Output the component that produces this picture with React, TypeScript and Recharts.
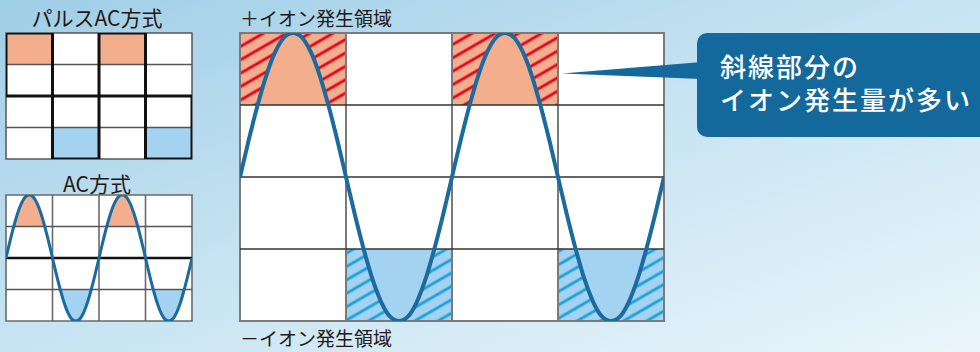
import React from "react";
import {
  ComposedChart,
  Line,
  Area,
  XAxis,
  YAxis,
  ReferenceArea,
  ReferenceLine,
} from "recharts";

// ---- data ----
// phase (degrees) of each sample along two full periods
const wavePhase = [
  0, 15, 30, 45, 60, 75, 90, 105, 120, 135, 150, 165, 180, 195, 210, 225, 240,
  255, 270, 285, 300, 315, 330, 345, 360, 375, 390, 405, 420, 435, 450, 465,
  480, 495, 510, 525, 540, 555, 570, 585, 600, 615, 630, 645, 660, 675, 690,
  705, 720,
];
// normalized level of the AC wave at each phase
const waveLevel = [
  0, 0.26, 0.5, 0.71, 0.87, 0.97, 1, 0.97, 0.87, 0.71, 0.5, 0.26, 0, -0.26,
  -0.5, -0.71, -0.87, -0.97, -1, -0.97, -0.87, -0.71, -0.5, -0.26, 0, 0.26, 0.5,
  0.71, 0.87, 0.97, 1, 0.97, 0.87, 0.71, 0.5, 0.26, 0, -0.26, -0.5, -0.71,
  -0.87, -0.97, -1, -0.97, -0.87, -0.71, -0.5, -0.26, 0,
];
// pulse AC square wave corners
const pulsePhase = [0, 0, 180, 180, 360, 360, 540, 540, 720, 720];
const pulseLevel = [0, 1, 1, -1, -1, 1, 1, -1, -1, 0];

const columnEdges = [0, 180, 360, 540, 720];
const rowEdges = [-1, -0.5, 0, 0.5, 1];
const plusColumns = [0, 2];
const minusColumns = [1, 3];

const titlePulse = "パルスAC方式";
const titleAC = "AC方式";
const plusLabel = "＋イオン発生領域";
const minusLabel = "－イオン発生領域";
const calloutLines = ["斜線部分の", "イオン発生量が多い"];

// ---- derived tables ----
const waveData = wavePhase.map((p, i) => ({
  p,
  v: waveLevel[i],
  up: waveLevel[i] >= 0.5 ? waveLevel[i] : null,
  dn: waveLevel[i] <= -0.5 ? waveLevel[i] : null,
}));
const pulseData = pulsePhase.map((p, i) => ({ p, v: pulseLevel[i] }));

const SALMON = "#F3AF8D";
const LIGHTBLUE = "#A3D3F0";
const WAVE = "#1B6B9E";
const FONT = '"Noto Sans CJK JP", "Noto Sans", sans-serif';

type GridStyle = {
  vStroke: string;
  vWidth: number;
  hStroke: string;
  hWidth: number;
  midStroke: string;
  midWidth: number;
  borderStroke: string;
  borderWidth: number;
};

function gridLines(g: GridStyle) {
  const out: React.ReactNode[] = [];
  columnEdges.slice(1, -1).forEach((x) =>
    out.push(
      <ReferenceLine key={"v" + x} x={x} stroke={g.vStroke} strokeWidth={g.vWidth} />
    )
  );
  rowEdges.slice(1, -1).forEach((y) =>
    out.push(
      <ReferenceLine
        key={"h" + y}
        y={y}
        stroke={y === 0 ? g.midStroke : g.hStroke}
        strokeWidth={y === 0 ? g.midWidth : g.hWidth}
      />
    )
  );
  out.push(
    <ReferenceArea
      key="border"
      x1={columnEdges[0]}
      x2={columnEdges[4]}
      y1={rowEdges[0]}
      y2={rowEdges[4]}
      fill="none"
      fillOpacity={0}
      stroke={g.borderStroke}
      strokeWidth={g.borderWidth}
    />
  );
  return out;
}

function cellAreas(fillPlus: string, fillMinus: string, prefix: string) {
  return [
    ...plusColumns.map((c) => (
      <ReferenceArea
        key={prefix + "p" + c}
        x1={columnEdges[c]}
        x2={columnEdges[c + 1]}
        y1={rowEdges[3]}
        y2={rowEdges[4]}
        fill={fillPlus}
        fillOpacity={1}
        stroke="none"
      />
    )),
    ...minusColumns.map((c) => (
      <ReferenceArea
        key={prefix + "m" + c}
        x1={columnEdges[c]}
        x2={columnEdges[c + 1]}
        y1={rowEdges[0]}
        y2={rowEdges[1]}
        fill={fillMinus}
        fillOpacity={1}
        stroke="none"
      />
    )),
  ];
}

const axes = [
  <XAxis key="x" dataKey="p" type="number" domain={[0, 720]} hide allowDataOverflow />,
  <YAxis key="y" type="number" domain={[-1, 1]} hide allowDataOverflow />,
];

const M = { top: 4, right: 4, bottom: 4, left: 4 };

function whiteBg() {
  return (
    <ReferenceArea
      x1={0}
      x2={720}
      y1={-1}
      y2={1}
      fill="#ffffff"
      fillOpacity={1}
      stroke="none"
    />
  );
}

function MainChart() {
  return (
    <ComposedChart width={432} height={296} data={waveData} margin={M}>
      {axes}
      {whiteBg()}
      {cellAreas(SALMON, LIGHTBLUE, "s")}
      {cellAreas("url(#hatchRed)", "url(#hatchBlue)", "h")}
      <Area
        dataKey="up"
        type="monotone"
        baseValue={0.5}
        fill={SALMON}
        fillOpacity={1}
        stroke="none"
        isAnimationActive={false}
        dot={false}
        activeDot={false}
      />
      <Area
        dataKey="dn"
        type="monotone"
        baseValue={-0.5}
        fill={LIGHTBLUE}
        fillOpacity={1}
        stroke="none"
        isAnimationActive={false}
        dot={false}
        activeDot={false}
      />
      {gridLines({
        vStroke: "#7a7a7a",
        vWidth: 2,
        hStroke: "#333333",
        hWidth: 1.4,
        midStroke: "#333333",
        midWidth: 1.4,
        borderStroke: "#7a7a7a",
        borderWidth: 2,
      })}
      <Line
        dataKey="v"
        type="monotone"
        stroke={WAVE}
        strokeWidth={4}
        dot={false}
        activeDot={false}
        isAnimationActive={false}
      />
    </ComposedChart>
  );
}

function PulseChart() {
  return (
    <ComposedChart width={194} height={134} data={pulseData} margin={M}>
      {axes}
      {whiteBg()}
      {cellAreas(SALMON, LIGHTBLUE, "s")}
      {gridLines({
        vStroke: "#555555",
        vWidth: 1.5,
        hStroke: "#555555",
        hWidth: 1.5,
        midStroke: "#111111",
        midWidth: 3,
        borderStroke: "#555555",
        borderWidth: 1.5,
      })}
      <Line
        dataKey="v"
        type="linear"
        stroke="#111111"
        strokeWidth={3}
        dot={false}
        activeDot={false}
        isAnimationActive={false}
      />
    </ComposedChart>
  );
}

function ACChart() {
  return (
    <ComposedChart width={194} height={134} data={waveData} margin={M}>
      {axes}
      {whiteBg()}
      <Area
        dataKey="up"
        type="monotone"
        baseValue={0.5}
        fill={SALMON}
        fillOpacity={1}
        stroke="none"
        isAnimationActive={false}
        dot={false}
        activeDot={false}
      />
      <Area
        dataKey="dn"
        type="monotone"
        baseValue={-0.5}
        fill={LIGHTBLUE}
        fillOpacity={1}
        stroke="none"
        isAnimationActive={false}
        dot={false}
        activeDot={false}
      />
      {gridLines({
        vStroke: "#6a6a6a",
        vWidth: 1.6,
        hStroke: "#555555",
        hWidth: 1.4,
        midStroke: "#111111",
        midWidth: 2.5,
        borderStroke: "#6a6a6a",
        borderWidth: 1.6,
      })}
      <Line
        dataKey="v"
        type="monotone"
        stroke={WAVE}
        strokeWidth={3}
        dot={false}
        activeDot={false}
        isAnimationActive={false}
      />
    </ComposedChart>
  );
}

const abs = (left: number, top: number): React.CSSProperties => ({
  position: "absolute",
  left,
  top,
});

const titleStyle: React.CSSProperties = {
  fontSize: 21,
  lineHeight: "22px",
  color: "#231815",
  whiteSpace: "nowrap",
};

const regionStyle: React.CSSProperties = {
  ...titleStyle,
  fontSize: 19,
};

const calloutStyle: React.CSSProperties = {
  fontFamily: 'Lato, "Noto Sans CJK JP", sans-serif',
  fontSize: 26,
  lineHeight: "30px",
  letterSpacing: 2,
  color: "#ffffff",
  fontWeight: 500,
  whiteSpace: "nowrap",
};

export default function App() {
  return (
    <div
      style={{
        position: "fixed",
        left: 0,
        top: 0,
        width: 980,
        height: 352,
        overflow: "hidden",
        background: "linear-gradient(to bottom right, #9FCEE7 0%, #C7E4F2 50%, #EAF5FB 100%)",
        fontFamily: FONT,
      }}
    >
      <svg width={0} height={0} style={{ position: "absolute" }}>
        <defs>
          <pattern
            id="hatchRed"
            patternUnits="userSpaceOnUse"
            width={11.6}
            height={11.6}
            patternTransform="rotate(-30)"
          >
            <rect width={11.6} height={11.6} fill={SALMON} />
            <line x1={0} y1={5.8} x2={11.6} y2={5.8} stroke="#E8001C" strokeWidth={2.8} />
          </pattern>
          <pattern
            id="hatchBlue"
            patternUnits="userSpaceOnUse"
            width={11.6}
            height={11.6}
            patternTransform="rotate(-30)"
          >
            <rect width={11.6} height={11.6} fill={LIGHTBLUE} />
            <line x1={0} y1={5.8} x2={11.6} y2={5.8} stroke="#1BA0DC" strokeWidth={2.8} />
          </pattern>
        </defs>
      </svg>

      {/* titles */}
      <div style={{ ...abs(0, 6), width: 194, textAlign: "center", ...titleStyle }}>
        {titlePulse}
      </div>
      <div style={{ ...abs(0, 172), width: 194, textAlign: "center", ...titleStyle }}>
        {titleAC}
      </div>
      <div style={{ ...abs(240, 7), ...regionStyle }}>{plusLabel}</div>
      <div style={{ ...abs(240, 327), ...regionStyle }}>{minusLabel}</div>

      {/* charts */}
      <div style={abs(2, 29)}>
        <PulseChart />
      </div>
      <div style={abs(2, 191)}>
        <ACChart />
      </div>
      <div style={abs(236, 29)}>
        <MainChart />
      </div>

      {/* callout */}
      <svg width={980} height={352} style={{ position: "absolute", left: 0, top: 0 }}>
        <polygon points="562,73.5 702,62 702,79" fill="#14699C" />
      </svg>
      <div
        style={{
          ...abs(697, 33),
          width: 320,
          height: 104,
          borderRadius: 10,
          background: "#14699C",
        }}
      />
      <div style={{ ...abs(720, 52), ...calloutStyle }}>{calloutLines[0]}</div>
      <div style={{ ...abs(720, 85), ...calloutStyle }}>{calloutLines[1]}</div>
    </div>
  );
}
